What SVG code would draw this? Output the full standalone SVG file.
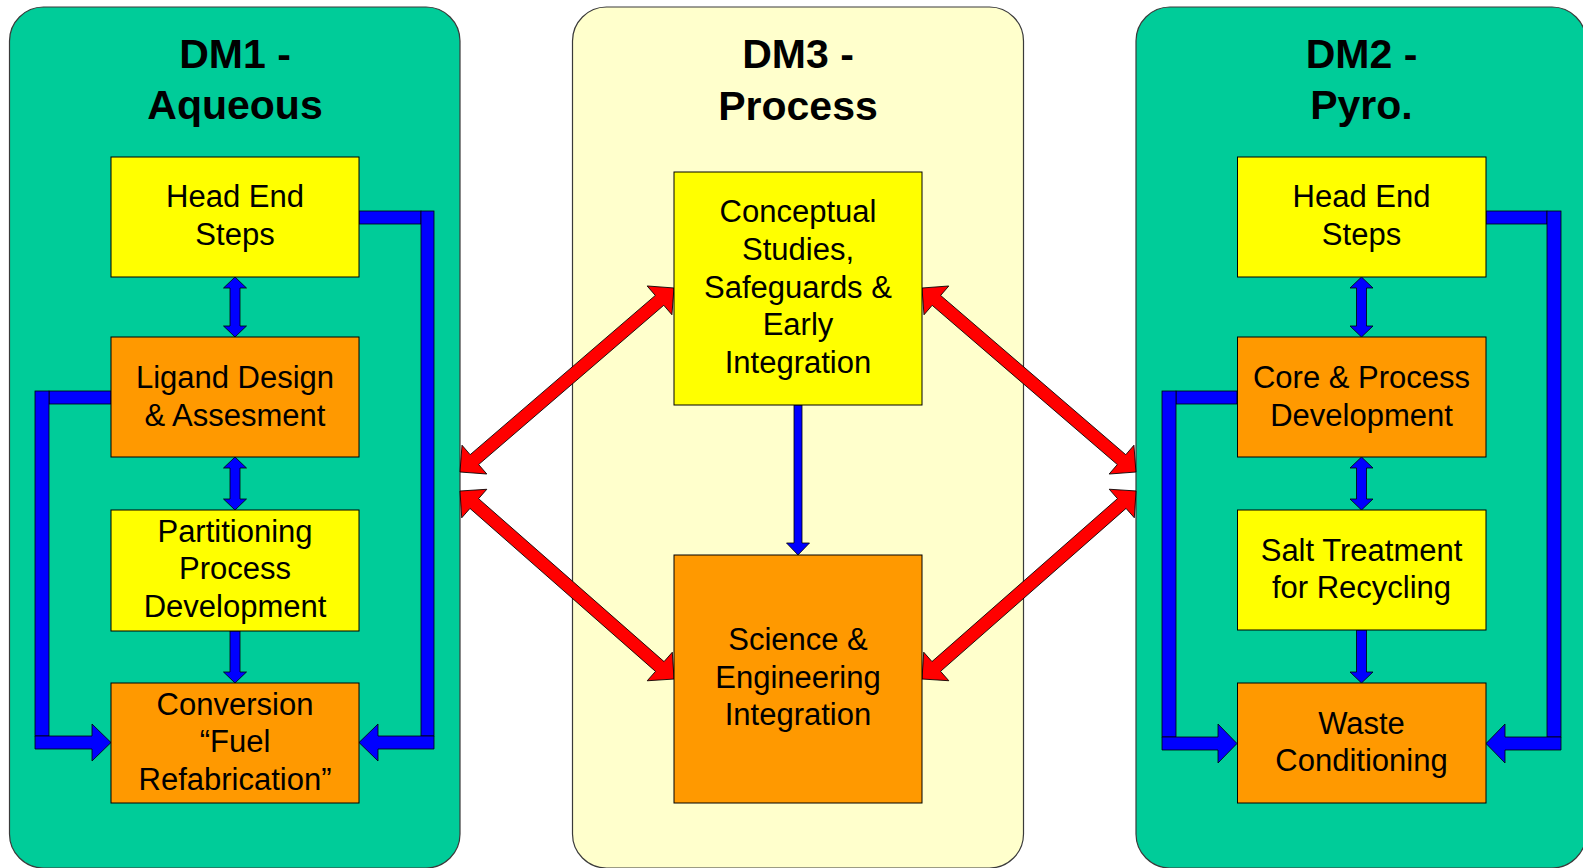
<svg xmlns="http://www.w3.org/2000/svg" width="1583" height="868" viewBox="0 0 1583 868">
  <style>
    .panel { stroke: #3a3a3a; stroke-width: 1.2; }
    .dm12 { fill: #00CC99; }
    .dm3 { fill: #FFFFCC; }
    .box { stroke: #000; stroke-width: 1; }
    .yel { fill: #FFFF00; }
    .org { fill: #FF9900; }
    .title { font-family: "Liberation Sans", Arial, sans-serif; font-weight: bold; font-size: 41px; fill: #000; text-anchor: middle; }
    .lbl { font-family: "Liberation Sans", Arial, sans-serif; font-size: 31px; fill: #000; text-anchor: middle; }
    .blue { fill: #0000FF; stroke: #000; stroke-width: 0.8; }
    .red { fill: #FF0000; stroke: #000; stroke-width: 0.8; stroke-linejoin: miter; }
  </style>

  <rect width="1583" height="868" fill="#FFFFFF"/>

  <!-- Panels -->
  <g id="panel-dm1">
    <rect class="panel dm12" x="9.5" y="7" width="450.5" height="861" rx="34" ry="34"/>
    <text class="title" x="235" y="68">DM1 -</text>
    <text class="title" x="235" y="119">Aqueous</text>
  </g>
  <g id="panel-dm3">
    <rect class="panel dm3" x="572.5" y="7" width="451" height="861" rx="34" ry="34"/>
    <text class="title" x="798" y="68">DM3 -</text>
    <text class="title" x="798" y="120">Process</text>
  </g>
  <g id="panel-dm2">
    <rect class="panel dm12" x="1136" y="7" width="450" height="861" rx="34" ry="34"/>
    <text class="title" x="1361.5" y="68">DM2 -</text>
    <text class="title" x="1361.5" y="119">Pyro.</text>
  </g>

  <!-- Connectors -->
  <g id="connectors">
    <!-- red double arrows between the panels -->
    <polygon class="red" transform="translate(460,472) rotate(-40.7)" points="0,0 19,-19 19,-6.5 263.2,-6.5 263.2,-19 282.2,0 263.2,19 263.2,6.5 19,6.5 19,19"/>
    <polygon class="red" transform="translate(460,491) rotate(41.3)" points="0,0 19,-19 19,-6.5 265.9,-6.5 265.9,-19 284.9,0 265.9,19 265.9,6.5 19,6.5 19,19"/>
    <polygon class="red" transform="translate(922,288) rotate(40.7)" points="0,0 19,-19 19,-6.5 263.2,-6.5 263.2,-19 282.2,0 263.2,19 263.2,6.5 19,6.5 19,19"/>
    <polygon class="red" transform="translate(922,679) rotate(-41.3)" points="0,0 19,-19 19,-6.5 265.9,-6.5 265.9,-19 284.9,0 265.9,19 265.9,6.5 19,6.5 19,19"/>

    <!-- DM1 vertical arrows -->
    <polygon class="blue" points="235,277 246.5,288 240,288 240,326 246.5,326 235,337 223.5,326 230,326 230,288 223.5,288"/>
    <polygon class="blue" points="235,457 246.5,468 240,468 240,499 246.5,499 235,510 223.5,499 230,499 230,468 223.5,468"/>
    <polygon class="blue" points="230,631 240,631 240,672 246.5,672 235,683 223.5,672 230,672"/>

    <!-- DM1 left loop: Ligand Design to Conversion -->
    <rect class="blue" x="49" y="391" width="62" height="13"/>
    <rect class="blue" x="35" y="391" width="14" height="345"/>
    <polygon class="blue" points="35,736 92,736 92,724 111,742.5 92,761 92,749 35,749"/>

    <!-- DM1 right loop: Head End to Conversion -->
    <rect class="blue" x="359" y="211" width="62" height="13"/>
    <rect class="blue" x="421" y="211" width="13" height="525"/>
    <polygon class="blue" points="434,736 378,736 378,724 359,742.5 378,761 378,749 434,749"/>

    <!-- DM3 down arrow -->
    <polygon class="blue" points="794,405 802,405 802,543 809.5,543 798,555 786.5,543 794,543"/>

    <!-- DM2 vertical arrows -->
    <polygon class="blue" points="1361.5,277 1373,288 1366.5,288 1366.5,326 1373,326 1361.5,337 1350,326 1356.5,326 1356.5,288 1350,288"/>
    <polygon class="blue" points="1361.5,457 1373,468 1366.5,468 1366.5,499 1373,499 1361.5,510 1350,499 1356.5,499 1356.5,468 1350,468"/>
    <polygon class="blue" points="1356.5,630 1366.5,630 1366.5,672 1373,672 1361.5,683 1350,672 1356.5,672"/>

    <!-- DM2 left loop: Core & Process to Waste -->
    <rect class="blue" x="1176" y="391" width="61" height="13"/>
    <rect class="blue" x="1162" y="391" width="14" height="346"/>
    <polygon class="blue" points="1162,737 1218,737 1218,724 1237,743.5 1218,763 1218,750 1162,750"/>

    <!-- DM2 right loop: Head End to Waste -->
    <rect class="blue" x="1486" y="211" width="61" height="13"/>
    <rect class="blue" x="1547" y="211" width="14" height="526"/>
    <polygon class="blue" points="1561,737 1505,737 1505,724 1486,743.5 1505,763 1505,750 1561,750"/>
  </g>

  <!-- DM1 nodes -->
  <g id="dm1-head-end">
    <rect class="box yel" x="111" y="157" width="248" height="120"/>
    <text class="lbl" x="235" y="207">Head End</text>
    <text class="lbl" x="235" y="245">Steps</text>
  </g>
  <g id="dm1-ligand">
    <rect class="box org" x="111" y="337" width="248" height="120"/>
    <text class="lbl" x="235" y="388">Ligand Design</text>
    <text class="lbl" x="235" y="426">&amp; Assesment</text>
  </g>
  <g id="dm1-partitioning">
    <rect class="box yel" x="111" y="510" width="248" height="121"/>
    <text class="lbl" x="235" y="542">Partitioning</text>
    <text class="lbl" x="235" y="579">Process</text>
    <text class="lbl" x="235" y="617">Development</text>
  </g>
  <g id="dm1-conversion">
    <rect class="box org" x="111" y="683" width="248" height="120"/>
    <text class="lbl" x="235" y="715">Conversion</text>
    <text class="lbl" x="235" y="752">“Fuel</text>
    <text class="lbl" x="235" y="790">Refabrication”</text>
  </g>

  <!-- DM3 nodes -->
  <g id="dm3-conceptual">
    <rect class="box yel" x="674" y="172" width="248" height="233"/>
    <text class="lbl" x="798" y="222">Conceptual</text>
    <text class="lbl" x="798" y="260">Studies,</text>
    <text class="lbl" x="798" y="297.5">Safeguards &amp;</text>
    <text class="lbl" x="798" y="335">Early</text>
    <text class="lbl" x="798" y="372.5">Integration</text>
  </g>
  <g id="dm3-science">
    <rect class="box org" x="674" y="555" width="248" height="248"/>
    <text class="lbl" x="798" y="650">Science &amp;</text>
    <text class="lbl" x="798" y="687.5">Engineering</text>
    <text class="lbl" x="798" y="725">Integration</text>
  </g>

  <!-- DM2 nodes -->
  <g id="dm2-head-end">
    <rect class="box yel" x="1237.5" y="157" width="248.5" height="120"/>
    <text class="lbl" x="1361.5" y="207">Head End</text>
    <text class="lbl" x="1361.5" y="245">Steps</text>
  </g>
  <g id="dm2-core">
    <rect class="box org" x="1237.5" y="337" width="248.5" height="120"/>
    <text class="lbl" x="1361.5" y="388">Core &amp; Process</text>
    <text class="lbl" x="1361.5" y="426">Development</text>
  </g>
  <g id="dm2-salt">
    <rect class="box yel" x="1237.5" y="510" width="248.5" height="120"/>
    <text class="lbl" x="1361.5" y="561">Salt Treatment</text>
    <text class="lbl" x="1361.5" y="598">for Recycling</text>
  </g>
  <g id="dm2-waste">
    <rect class="box org" x="1237.5" y="683" width="248.5" height="120"/>
    <text class="lbl" x="1361.5" y="733.5">Waste</text>
    <text class="lbl" x="1361.5" y="771">Conditioning</text>
  </g>
</svg>
